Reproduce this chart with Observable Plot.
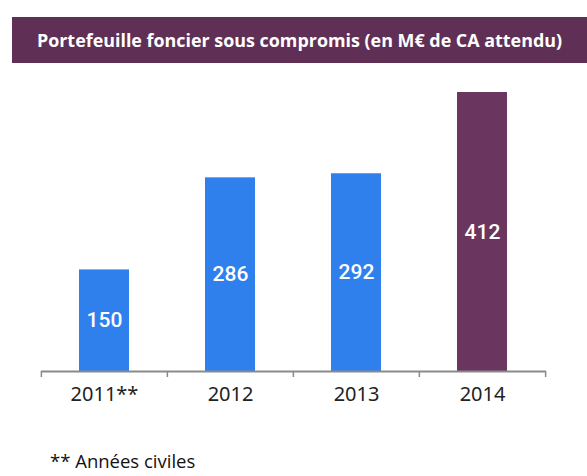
<!DOCTYPE html>
<html>
<head>
<meta charset="utf-8">
<script src="https://cdn.jsdelivr.net/npm/d3@7"></script>
<script src="https://cdn.jsdelivr.net/npm/@observablehq/plot@0.6"></script>
<style>
  html, body { margin: 0; padding: 0; background: #fff; }
  body { width: 587px; height: 476px; position: relative; overflow: hidden; }
  #title {
    position: absolute; left: 12px; right: 0; top: 17px; height: 46px;
    background: #5f2f56; color: #fff;
    font-family: "Open Sans", "Noto Sans", sans-serif; font-weight: 700; font-size: 17.9px;
    display: flex; align-items: center; justify-content: center;
  }
  #chart { position: absolute; left: 0; top: 70px; }
  #note {
    position: absolute; left: 50px; top: 448px;
    font-family: "Open Sans", "Noto Sans", sans-serif; font-size: 18.5px; color: #111;
  }
</style>
</head>
<body>
<div id="title">Portefeuille foncier sous compromis (en M€ de CA attendu)</div>
<div id="chart"></div>
<div id="note">** Années civiles</div>
<script>
const years = ["2011**", "2012", "2013", "2014"];
const values = [150, 286, 292, 412];
const colors = ["#2f80ed", "#2f80ed", "#2f80ed", "#6a3660"];

const data = years.map((y, i) => ({year: y, value: values[i], color: colors[i]}));

const W = 587, H = 330, mL = 41, mR = 41;
const step = (W - mL - mR) / years.length;

const plot = Plot.plot({
  width: W,
  height: H,
  marginTop: 22,
  marginBottom: 29,
  marginLeft: mL,
  marginRight: mR,
  x: {domain: years, paddingInner: 0.6, paddingOuter: 0.3, label: null},
  y: {domain: [0, 412], axis: null},
  marks: [
    Plot.barY(data, {x: "year", y: "value", fill: d => d.color}),
    Plot.text(data, {
      x: "year", y: d => d.value / 2, text: d => String(d.value),
      fill: "white", fontSize: 21, fontWeight: 500, fontFamily: "Roboto"
    }),
    Plot.ruleY([0], {stroke: "#8a8a8a", strokeWidth: 2}),
    Plot.ruleX(data, {x: "year", y1: 0, y2: 0, dx: -step / 2, insetBottom: -6, stroke: "#8a8a8a", strokeWidth: 1.5}),
    Plot.ruleX(data.slice(-1), {x: "year", y1: 0, y2: 0, dx: step / 2, insetBottom: -6, stroke: "#8a8a8a", strokeWidth: 1.5}),
    Plot.axisX({tickSize: 0, tickPadding: 15, fontSize: 20, fill: "#222", fontFamily: "Noto Sans", label: null})
  ],
  style: {fontFamily: "Noto Sans", background: "transparent", overflow: "visible"}
});
document.getElementById("chart").appendChild(plot);
</script>
</body>
</html>
